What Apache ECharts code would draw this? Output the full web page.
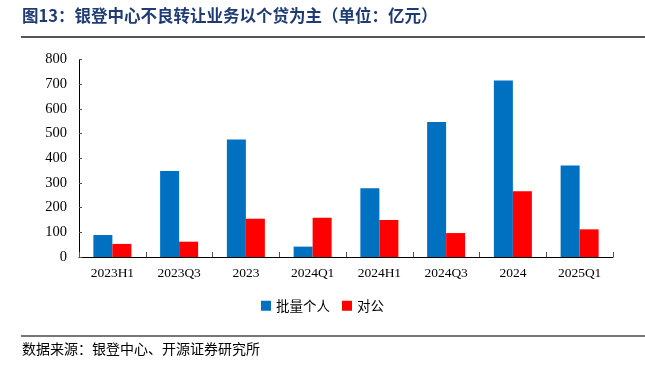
<!DOCTYPE html>
<html><head><meta charset="utf-8">
<script src="https://cdn.jsdelivr.net/npm/echarts@6/dist/echarts.min.js"></script>
<style>html,body{margin:0;padding:0;background:#fff}#c{width:645px;height:369px}</style>
</head><body><div id="c"></div>
<script>
const categories = ['2023H1','2023Q3','2023','2024Q1','2024H1','2024Q3','2024','2025Q1'];
const personal = [89, 348, 476, 42, 278, 547, 715, 371];
const corporate = [53, 62, 155, 159, 150, 97, 266, 112];
const seriesNames = ['批量个人', '对公'];
const titleText = '图13：银登中心不良转让业务以个贷为主（单位：亿元）';
const sourceText = '数据来源：银登中心、开源证券研究所';

const cjk = '"Noto Sans CJK SC", sans-serif';
const serif = '"Liberation Serif", "Times New Roman", serif';
const chart = echarts.init(document.getElementById('c'));
chart.setOption({
  animation: false,
  grid: {left: 79, right: 32, top: 59.5, bottom: 112},
  legend: {
    data: seriesNames, left: 'center', top: 294, itemWidth: 10, itemHeight: 10, itemGap: 12,
    icon: 'rect', textStyle: {fontFamily: cjk, fontSize: 13.5, color: '#000'}
  },
  xAxis: {
    type: 'category', data: categories,
    axisLine: {lineStyle: {color: '#000', width: 1}},
    axisTick: {show: true, length: 5, inside: true, lineStyle: {color: '#555'}},
    axisLabel: {fontFamily: serif, fontSize: 13.5, color: '#000', margin: 9}
  },
  yAxis: {
    type: 'value', min: 0, max: 800, interval: 100,
    splitLine: {show: false},
    axisLine: {show: true, lineStyle: {color: '#000'}},
    axisTick: {show: true, length: 3, inside: true, lineStyle: {color: '#555'}},
    axisLabel: {fontFamily: serif, fontSize: 14.5, color: '#000', margin: 12}
  },
  series: [
    {name: seriesNames[0], type: 'bar', data: personal, barWidth: 19, barGap: '0%', itemStyle: {color: '#0070C0'}},
    {name: seriesNames[1], type: 'bar', data: corporate, barWidth: 19, barGap: '0%', itemStyle: {color: '#FF0000'}}
  ],
  graphic: [
    {type: 'text', left: 22, top: 7, style: {text: titleText, fontFamily: cjk, fontSize: 16.5, fontWeight: 'bold', fill: '#1F3B73'}},
    {type: 'line', shape: {x1: 21, y1: 37, x2: 645, y2: 37}, style: {stroke: '#555', lineWidth: 2}},
    {type: 'line', shape: {x1: 21, y1: 336, x2: 645, y2: 336}, style: {stroke: '#777', lineWidth: 2}},
    {type: 'text', left: 22, top: 342, style: {text: sourceText, fontFamily: cjk, fontSize: 14, fill: '#000'}}
  ]
});
</script></body></html>
